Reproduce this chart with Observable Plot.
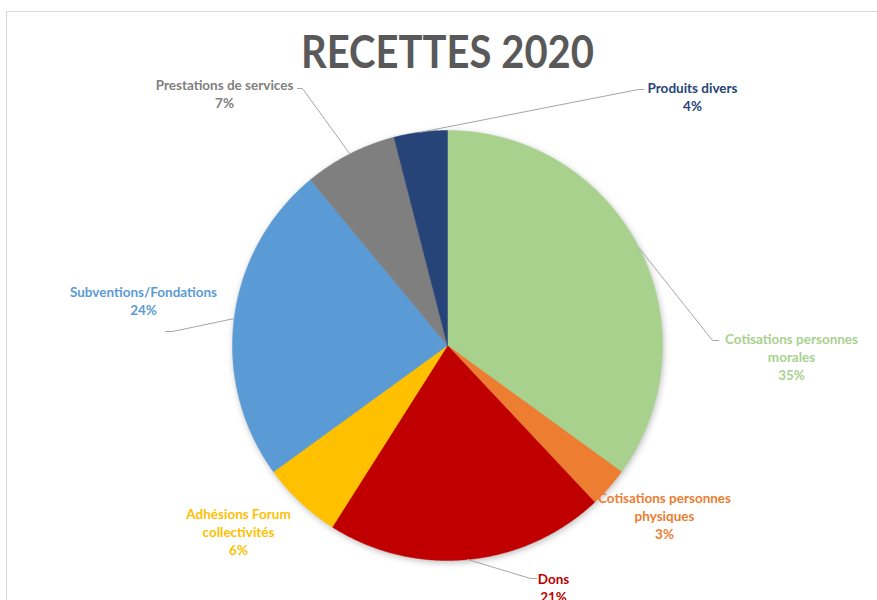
<!DOCTYPE html>
<html><head><meta charset="utf-8">
<script src="https://cdn.jsdelivr.net/npm/d3@7"></script>
<script src="https://cdn.jsdelivr.net/npm/@observablehq/plot@0.6"></script>
<style>body{margin:0;background:#fff;}</style>
</head><body><div id="chart"></div>
<script>
// ---- data ----
const title = "RECETTES 2020";
const categories = [
  "Cotisations personnes morales",
  "Cotisations personnes physiques",
  "Dons",
  "Adhésions Forum collectivités",
  "Subventions/Fondations",
  "Prestations de services",
  "Produits divers"
];
const percents = [35, 3, 21, 6, 24, 7, 4];
const labelNames = [
  "Cotisations personnes\nmorales",
  "Cotisations personnes\nphysiques",
  "Dons",
  "Adhésions Forum\ncollectivités",
  "Subventions/Fondations",
  "Prestations de services",
  "Produits divers"
];
const sliceColors = ["#A9D18E", "#ED7D31", "#C00000", "#FFC000", "#5B9BD5", "#7F7F7F", "#264478"];

// ---- layout ----
const W = 877, H = 600, CX = 447, CY = 345, R = 215;
const labelPos = [[791, 356], [664, 515], [553, 587], [238, 531], [143, 300], [224, 92.5], [692, 95.5]];
const leaderEnds = [
  [[712, 340], [718, 340]],
  null,
  [[530, 578], [536, 578]],
  null,
  [[172, 331], [165, 331]],
  [[302, 88], [297, 88]],
  [[638, 89], [643, 89]]
];

const arcs = d3.pie().sort(null).value(d => d)(percents);

const slicePts = [];
arcs.forEach((a, i) => {
  const cat = categories[i];
  const n = Math.max(4, Math.ceil((a.endAngle - a.startAngle) / 0.01));
  slicePts.push({cat, x: CX, y: CY});
  for (let k = 0; k <= n; k++) {
    const t = a.startAngle + (a.endAngle - a.startAngle) * k / n;
    slicePts.push({cat, x: CX + R * Math.sin(t), y: CY - R * Math.cos(t)});
  }
  slicePts.push({cat, x: CX, y: CY});
});

const leaderPts = [];
arcs.forEach((a, i) => {
  if (!leaderEnds[i]) return;
  const cat = categories[i];
  const m = (a.startAngle + a.endAngle) / 2;
  leaderPts.push({cat, x: CX + R * Math.sin(m), y: CY - R * Math.cos(m)});
  leaderEnds[i].forEach(p => leaderPts.push({cat, x: p[0], y: p[1]}));
});

const labels = categories.map((c, i) => ({
  cat: c,
  x: labelPos[i][0],
  y: labelPos[i][1],
  text: labelNames[i] + "\n" + percents[i] + "%"
}));

const chart = Plot.plot({
  width: W, height: H, margin: 0,
  x: {domain: [0, W], range: [0, W], axis: null},
  y: {domain: [0, H], range: [0, H], axis: null},
  color: {domain: categories, range: sliceColors},
  style: {fontFamily: "Lato, 'Open Sans', sans-serif", background: "#fff", overflow: "visible"},
  marks: [
    Plot.ruleY([11], {x1: 6, x2: W, stroke: "#d9d9d9", strokeWidth: 1.2}),
    Plot.ruleX([6], {y1: 11, y2: H, stroke: "#d9d9d9", strokeWidth: 1.2}),
    Plot.line(slicePts, {x: "x", y: "y", z: "cat", fill: "cat", stroke: "cat", strokeWidth: 0.5, curve: "linear"}),
    Plot.line(leaderPts, {x: "x", y: "y", z: "cat", stroke: "#a6a6a6", strokeWidth: 1}),
    Plot.text(labels, {x: "x", y: "y", text: "text", fill: "cat", fontSize: 13.5, fontWeight: "bold", lineHeight: 1.33, textAnchor: "middle"}),
    Plot.text([title], {x: () => CX, y: () => 53, text: d => d, fill: "#595959", fontSize: 46, fontWeight: "bold", textAnchor: "middle"})
  ]
});
const sliceG = chart.querySelectorAll('g[aria-label="line"]')[0];
if (sliceG) sliceG.style.filter = "drop-shadow(1px 2px 3px rgba(0,0,0,0.25))";
const texts = chart.querySelectorAll('g[aria-label="text"]');
const titleText = texts[texts.length - 1].querySelector("text");
if (titleText) {
  titleText.setAttribute("textLength", "293");
  titleText.setAttribute("lengthAdjust", "spacingAndGlyphs");
}
document.getElementById("chart").appendChild(chart);
</script>
</body></html>
